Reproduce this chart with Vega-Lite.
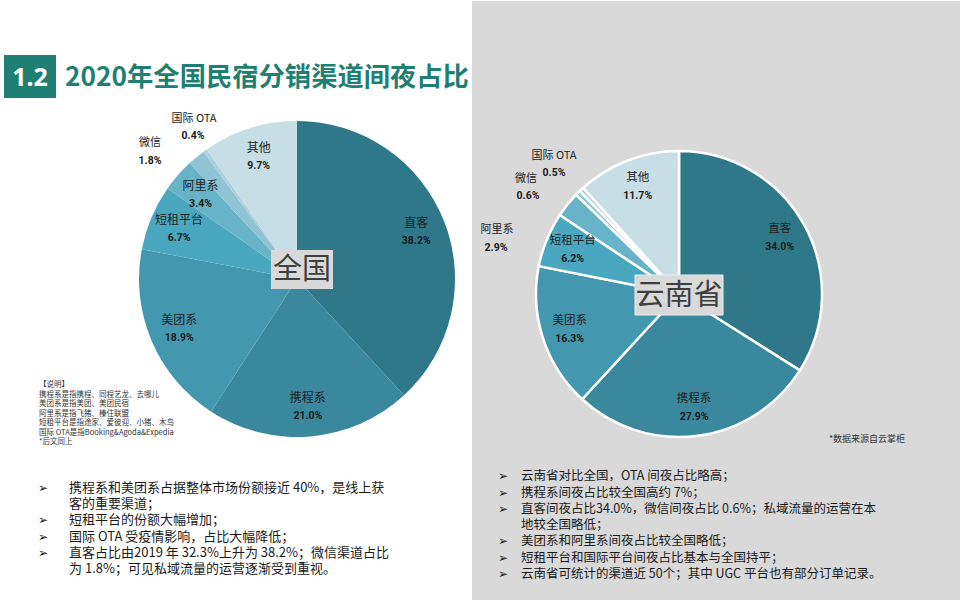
{
  "$schema": "https://vega.github.io/schema/vega-lite/v6.json",
  "width": 960,
  "height": 600,
  "autosize": {"type": "fit", "contains": "padding"},
  "padding": 0,
  "background": "white",
  "config": {"view": {"stroke": null}, "font": "Noto Sans CJK SC", "text": {"font": "Noto Sans CJK SC"}},
  "datasets": {
    "national": [
      {"ch": "直客", "v": 38.2, "idx": 1},
      {"ch": "携程系", "v": 21.0, "idx": 2},
      {"ch": "美团系", "v": 18.9, "idx": 3},
      {"ch": "短租平台", "v": 6.7, "idx": 4},
      {"ch": "阿里系", "v": 3.4, "idx": 5},
      {"ch": "微信", "v": 1.8, "idx": 6},
      {"ch": "国际 OTA", "v": 0.4, "idx": 7},
      {"ch": "其他", "v": 9.7, "idx": 8}
    ],
    "yunnan": [
      {"ch": "直客", "v": 34.0, "idx": 1},
      {"ch": "携程系", "v": 27.9, "idx": 2},
      {"ch": "美团系", "v": 16.3, "idx": 3},
      {"ch": "短租平台", "v": 6.2, "idx": 4},
      {"ch": "阿里系", "v": 2.9, "idx": 5},
      {"ch": "微信", "v": 0.6, "idx": 6},
      {"ch": "国际 OTA", "v": 0.5, "idx": 7},
      {"ch": "其他", "v": 11.7, "idx": 8}
    ]
  },
  "layer": [
    {"data": {"values": [{}]}, "mark": {"type": "rect", "x": 471, "x2": 960, "y": 0, "y2": 600, "fill": "#d9d9d9"}, "encoding": {}},
    {"data": {"values": [{}]}, "mark": {"type": "rect", "x": 3, "x2": 55, "y": 54, "y2": 97, "fill": "#1f7f72"}, "encoding": {}},
    {"data": {"values": [{}]}, "mark": {"type": "text", "x": 29, "y": 77, "text": "1.2", "fontSize": 25, "fontWeight": "bold", "fill": "white", "align": "center", "baseline": "middle", "font": "Noto Sans"}, "encoding": {}},
    {"data": {"values": [{}]}, "mark": {"type": "text", "x": 64, "y": 77, "text": "2020年全国民宿分销渠道间夜占比", "fontSize": 26.3, "fontWeight": "bold", "fill": "#1f7f72", "align": "left", "baseline": "middle"}, "encoding": {}},

    {"data": {"name": "national"},
     "mark": {"type": "arc", "x": 296, "y": 278, "outerRadius": 158},
     "encoding": {
       "theta": {"field": "v", "type": "quantitative", "stack": true},
       "order": {"field": "idx", "type": "quantitative"},
       "color": {"field": "ch", "type": "nominal", "legend": null,
         "scale": {"domain": ["直客", "携程系", "美团系", "短租平台", "阿里系", "微信", "国际 OTA", "其他"],
                   "range": ["#2e788a", "#3a889d", "#4398af", "#4aa7c0", "#67b4c9", "#90c4d4", "#abd1dd", "#c7dee7"]}}
     }},
    {"data": {"name": "national"},
     "mark": {"type": "text", "x": 296, "y": 278, "radius": 128, "dy": -9, "fontSize": 12, "fill": "#222222", "align": "center", "baseline": "middle"},
     "encoding": {
       "theta": {"field": "v", "type": "quantitative", "stack": true},
       "order": {"field": "idx", "type": "quantitative"},
       "text": {"condition": {"test": "datum.v < 3", "value": ""}, "field": "ch"}
     }},
    {"data": {"name": "national"},
     "transform": [{"calculate": "format(datum.v, '.1f') + '%'", "as": "pct"}],
     "mark": {"type": "text", "x": 296, "y": 278, "radius": 128, "dy": 9, "fontSize": 10.5, "fontWeight": "bold", "fill": "#1a1a1a", "align": "center", "baseline": "middle", "font": "Roboto"},
     "encoding": {
       "theta": {"field": "v", "type": "quantitative", "stack": true},
       "order": {"field": "idx", "type": "quantitative"},
       "text": {"condition": {"test": "datum.v < 3", "value": ""}, "field": "pct"}
     }},
    {"data": {"values": [{}]}, "mark": {"type": "rule", "x": 200, "y": 133, "x2": 206, "y2": 150, "stroke": "#9a9a9a", "strokeWidth": 1}, "encoding": {}},
    {"data": {"values": [{}]}, "mark": {"type": "rule", "x": 163, "y": 145, "x2": 198, "y2": 155, "stroke": "#9a9a9a", "strokeWidth": 1}, "encoding": {}},
    {"data": {"name": "national"}, "transform": [{"filter": "datum.ch == '国际 OTA'"}],
     "mark": {"type": "text", "x": 193, "y": 118, "fontSize": 11, "fill": "#222222", "align": "center", "baseline": "middle"},
     "encoding": {"text": {"field": "ch"}}},
    {"data": {"name": "national"}, "transform": [{"filter": "datum.ch == '国际 OTA'"}, {"calculate": "format(datum.v, '.1f') + '%'", "as": "pct"}],
     "mark": {"type": "text", "x": 192, "y": 135, "fontSize": 10.5, "fontWeight": "bold", "fill": "#1a1a1a", "align": "center", "baseline": "middle", "font": "Roboto"},
     "encoding": {"text": {"field": "pct"}}},
    {"data": {"name": "national"}, "transform": [{"filter": "datum.ch == '微信'"}],
     "mark": {"type": "text", "x": 149, "y": 142, "fontSize": 11, "fill": "#222222", "align": "center", "baseline": "middle"},
     "encoding": {"text": {"field": "ch"}}},
    {"data": {"name": "national"}, "transform": [{"filter": "datum.ch == '微信'"}, {"calculate": "format(datum.v, '.1f') + '%'", "as": "pct"}],
     "mark": {"type": "text", "x": 149, "y": 160, "fontSize": 10.5, "fontWeight": "bold", "fill": "#1a1a1a", "align": "center", "baseline": "middle", "font": "Roboto"},
     "encoding": {"text": {"field": "pct"}}},
    {"data": {"values": [{}]}, "mark": {"type": "rect", "x": 270, "x2": 332, "y": 249, "y2": 288, "fill": "#d9d9d9"}, "encoding": {}},
    {"data": {"values": [{}]}, "mark": {"type": "text", "x": 301, "y": 269, "text": "全国", "fontSize": 29, "fill": "#3f3f3f", "align": "center", "baseline": "middle"}, "encoding": {}},

    {"data": {"name": "yunnan"},
     "mark": {"type": "arc", "x": 678, "y": 293, "outerRadius": 143, "stroke": "white", "strokeWidth": 2.5},
     "encoding": {
       "theta": {"field": "v", "type": "quantitative", "stack": true},
       "order": {"field": "idx", "type": "quantitative"},
       "color": {"field": "ch", "type": "nominal", "legend": null}
     }},
    {"data": {"name": "yunnan"},
     "mark": {"type": "text", "x": 678, "y": 293, "radius": 115, "dy": -9, "fontSize": 11.5, "fill": "#222222", "align": "center", "baseline": "middle"},
     "encoding": {
       "theta": {"field": "v", "type": "quantitative", "stack": true},
       "order": {"field": "idx", "type": "quantitative"},
       "text": {"condition": {"test": "datum.v < 3", "value": ""}, "field": "ch"}
     }},
    {"data": {"name": "yunnan"},
     "transform": [{"calculate": "format(datum.v, '.1f') + '%'", "as": "pct"}],
     "mark": {"type": "text", "x": 678, "y": 293, "radius": 115, "dy": 9, "fontSize": 10.5, "fontWeight": "bold", "fill": "#1a1a1a", "align": "center", "baseline": "middle", "font": "Roboto"},
     "encoding": {
       "theta": {"field": "v", "type": "quantitative", "stack": true},
       "order": {"field": "idx", "type": "quantitative"},
       "text": {"condition": {"test": "datum.v < 3", "value": ""}, "field": "pct"}
     }},
    {"data": {"values": [{}]}, "mark": {"type": "rule", "x": 567, "y": 173, "x2": 580, "y2": 192, "stroke": "#9a9a9a", "strokeWidth": 1}, "encoding": {}},
    {"data": {"values": [{}]}, "mark": {"type": "rule", "x": 542, "y": 181, "x2": 578, "y2": 193, "stroke": "#9a9a9a", "strokeWidth": 1}, "encoding": {}},
    {"data": {"values": [{}]}, "mark": {"type": "rule", "x": 517, "y": 232, "x2": 567, "y2": 203, "stroke": "#9a9a9a", "strokeWidth": 1}, "encoding": {}},
    {"data": {"name": "yunnan"}, "transform": [{"filter": "datum.ch == '国际 OTA'"}],
     "mark": {"type": "text", "x": 553, "y": 155, "fontSize": 11, "fill": "#222222", "align": "center", "baseline": "middle"},
     "encoding": {"text": {"field": "ch"}}},
    {"data": {"name": "yunnan"}, "transform": [{"filter": "datum.ch == '国际 OTA'"}, {"calculate": "format(datum.v, '.1f') + '%'", "as": "pct"}],
     "mark": {"type": "text", "x": 553, "y": 172, "fontSize": 10.5, "fontWeight": "bold", "fill": "#1a1a1a", "align": "center", "baseline": "middle", "font": "Roboto"},
     "encoding": {"text": {"field": "pct"}}},
    {"data": {"name": "yunnan"}, "transform": [{"filter": "datum.ch == '微信'"}],
     "mark": {"type": "text", "x": 525, "y": 178, "fontSize": 11, "fill": "#222222", "align": "center", "baseline": "middle"},
     "encoding": {"text": {"field": "ch"}}},
    {"data": {"name": "yunnan"}, "transform": [{"filter": "datum.ch == '微信'"}, {"calculate": "format(datum.v, '.1f') + '%'", "as": "pct"}],
     "mark": {"type": "text", "x": 527, "y": 195, "fontSize": 10.5, "fontWeight": "bold", "fill": "#1a1a1a", "align": "center", "baseline": "middle", "font": "Roboto"},
     "encoding": {"text": {"field": "pct"}}},
    {"data": {"name": "yunnan"}, "transform": [{"filter": "datum.ch == '阿里系'"}],
     "mark": {"type": "text", "x": 496, "y": 229, "fontSize": 11, "fill": "#222222", "align": "center", "baseline": "middle"},
     "encoding": {"text": {"field": "ch"}}},
    {"data": {"name": "yunnan"}, "transform": [{"filter": "datum.ch == '阿里系'"}, {"calculate": "format(datum.v, '.1f') + '%'", "as": "pct"}],
     "mark": {"type": "text", "x": 495, "y": 247, "fontSize": 10.5, "fontWeight": "bold", "fill": "#1a1a1a", "align": "center", "baseline": "middle", "font": "Roboto"},
     "encoding": {"text": {"field": "pct"}}},
    {"data": {"values": [{}]}, "mark": {"type": "rect", "x": 634, "x2": 722, "y": 274, "y2": 314, "fill": "#d9d9d9", "stroke": "#ececec", "strokeWidth": 1}, "encoding": {}},
    {"data": {"values": [{}]}, "mark": {"type": "text", "x": 678, "y": 295, "text": "云南省", "fontSize": 29, "fill": "#3f3f3f", "align": "center", "baseline": "middle"}, "encoding": {}},

    {"data": {"values": [{}]}, "mark": {"type": "text", "x": 38, "y": 384, "text": "【说明】", "fontSize": 7.5, "fill": "#333333", "align": "left", "baseline": "middle"}, "encoding": {}},
    {"data": {"values": [{}]}, "mark": {"type": "text", "x": 38, "y": 393.5, "text": "携程系是指携程、同程艺龙、去哪儿", "fontSize": 7.5, "fill": "#333333", "align": "left", "baseline": "middle"}, "encoding": {}},
    {"data": {"values": [{}]}, "mark": {"type": "text", "x": 38, "y": 403, "text": "美团系是指美团、美团民宿", "fontSize": 7.5, "fill": "#333333", "align": "left", "baseline": "middle"}, "encoding": {}},
    {"data": {"values": [{}]}, "mark": {"type": "text", "x": 38, "y": 412.5, "text": "阿里系是指飞猪、榛住联盟", "fontSize": 7.5, "fill": "#333333", "align": "left", "baseline": "middle"}, "encoding": {}},
    {"data": {"values": [{}]}, "mark": {"type": "text", "x": 38, "y": 422, "text": "短租平台是指途家、爱彼迎、小猪、木鸟", "fontSize": 7.5, "fill": "#333333", "align": "left", "baseline": "middle"}, "encoding": {}},
    {"data": {"values": [{}]}, "mark": {"type": "text", "x": 38, "y": 431.5, "text": "国际 OTA是指Booking&Agoda&Expedia", "fontSize": 7.5, "fill": "#333333", "align": "left", "baseline": "middle"}, "encoding": {}},
    {"data": {"values": [{}]}, "mark": {"type": "text", "x": 38, "y": 441, "text": "*后文同上", "fontSize": 7.5, "fill": "#333333", "align": "left", "baseline": "middle"}, "encoding": {}},
    {"data": {"values": [{}]}, "mark": {"type": "text", "x": 866, "y": 438, "text": "*数据来源自云掌柜", "fontSize": 9, "fill": "#333333", "align": "center", "baseline": "middle"}, "encoding": {}},

    {"data": {"values": [{}]}, "mark": {"type": "text", "x": 42, "y": 487, "text": "➢", "fontSize": 12, "fontWeight": "bold", "fill": "#222222", "align": "center", "baseline": "middle", "font": "DejaVu Sans"}, "encoding": {}},
    {"data": {"values": [{}]}, "mark": {"type": "text", "x": 42, "y": 519, "text": "➢", "fontSize": 12, "fontWeight": "bold", "fill": "#222222", "align": "center", "baseline": "middle", "font": "DejaVu Sans"}, "encoding": {}},
    {"data": {"values": [{}]}, "mark": {"type": "text", "x": 42, "y": 535.5, "text": "➢", "fontSize": 12, "fontWeight": "bold", "fill": "#222222", "align": "center", "baseline": "middle", "font": "DejaVu Sans"}, "encoding": {}},
    {"data": {"values": [{}]}, "mark": {"type": "text", "x": 42, "y": 551.5, "text": "➢", "fontSize": 12, "fontWeight": "bold", "fill": "#222222", "align": "center", "baseline": "middle", "font": "DejaVu Sans"}, "encoding": {}},
    {"data": {"values": [{}]}, "mark": {"type": "text", "x": 68, "y": 487, "text": "携程系和美团系占据整体市场份额接近 40%，是线上获", "fontSize": 13, "fill": "#1a1a1a", "align": "left", "baseline": "middle"}, "encoding": {}},
    {"data": {"values": [{}]}, "mark": {"type": "text", "x": 68, "y": 503, "text": "客的重要渠道；", "fontSize": 13, "fill": "#1a1a1a", "align": "left", "baseline": "middle"}, "encoding": {}},
    {"data": {"values": [{}]}, "mark": {"type": "text", "x": 68, "y": 519, "text": "短租平台的份额大幅增加；", "fontSize": 13, "fill": "#1a1a1a", "align": "left", "baseline": "middle"}, "encoding": {}},
    {"data": {"values": [{}]}, "mark": {"type": "text", "x": 68, "y": 535.5, "text": "国际 OTA 受疫情影响，占比大幅降低；", "fontSize": 13, "fill": "#1a1a1a", "align": "left", "baseline": "middle"}, "encoding": {}},
    {"data": {"values": [{}]}, "mark": {"type": "text", "x": 68, "y": 551.5, "text": "直客占比由2019 年 32.3%上升为 38.2%；微信渠道占比", "fontSize": 13, "fill": "#1a1a1a", "align": "left", "baseline": "middle"}, "encoding": {}},
    {"data": {"values": [{}]}, "mark": {"type": "text", "x": 68, "y": 567.5, "text": "为 1.8%；可见私域流量的运营逐渐受到重视。", "fontSize": 13, "fill": "#1a1a1a", "align": "left", "baseline": "middle"}, "encoding": {}},

    {"data": {"values": [{}]}, "mark": {"type": "text", "x": 502, "y": 475, "text": "➢", "fontSize": 12, "fontWeight": "bold", "fill": "#222222", "align": "center", "baseline": "middle", "font": "DejaVu Sans"}, "encoding": {}},
    {"data": {"values": [{}]}, "mark": {"type": "text", "x": 502, "y": 491.5, "text": "➢", "fontSize": 12, "fontWeight": "bold", "fill": "#222222", "align": "center", "baseline": "middle", "font": "DejaVu Sans"}, "encoding": {}},
    {"data": {"values": [{}]}, "mark": {"type": "text", "x": 502, "y": 508, "text": "➢", "fontSize": 12, "fontWeight": "bold", "fill": "#222222", "align": "center", "baseline": "middle", "font": "DejaVu Sans"}, "encoding": {}},
    {"data": {"values": [{}]}, "mark": {"type": "text", "x": 502, "y": 540, "text": "➢", "fontSize": 12, "fontWeight": "bold", "fill": "#222222", "align": "center", "baseline": "middle", "font": "DejaVu Sans"}, "encoding": {}},
    {"data": {"values": [{}]}, "mark": {"type": "text", "x": 502, "y": 556.5, "text": "➢", "fontSize": 12, "fontWeight": "bold", "fill": "#222222", "align": "center", "baseline": "middle", "font": "DejaVu Sans"}, "encoding": {}},
    {"data": {"values": [{}]}, "mark": {"type": "text", "x": 502, "y": 572.5, "text": "➢", "fontSize": 12, "fontWeight": "bold", "fill": "#222222", "align": "center", "baseline": "middle", "font": "DejaVu Sans"}, "encoding": {}},
    {"data": {"values": [{}]}, "mark": {"type": "text", "x": 520, "y": 475, "text": "云南省对比全国，OTA 间夜占比略高；", "fontSize": 12.5, "fill": "#1a1a1a", "align": "left", "baseline": "middle"}, "encoding": {}},
    {"data": {"values": [{}]}, "mark": {"type": "text", "x": 520, "y": 491.5, "text": "携程系间夜占比较全国高约 7%；", "fontSize": 12.5, "fill": "#1a1a1a", "align": "left", "baseline": "middle"}, "encoding": {}},
    {"data": {"values": [{}]}, "mark": {"type": "text", "x": 520, "y": 508, "text": "直客间夜占比34.0%，微信间夜占比 0.6%；私域流量的运营在本", "fontSize": 12.5, "fill": "#1a1a1a", "align": "left", "baseline": "middle"}, "encoding": {}},
    {"data": {"values": [{}]}, "mark": {"type": "text", "x": 520, "y": 523.5, "text": "地较全国略低；", "fontSize": 12.5, "fill": "#1a1a1a", "align": "left", "baseline": "middle"}, "encoding": {}},
    {"data": {"values": [{}]}, "mark": {"type": "text", "x": 520, "y": 540, "text": "美团系和阿里系间夜占比较全国略低；", "fontSize": 12.5, "fill": "#1a1a1a", "align": "left", "baseline": "middle"}, "encoding": {}},
    {"data": {"values": [{}]}, "mark": {"type": "text", "x": 520, "y": 556.5, "text": "短租平台和国际平台间夜占比基本与全国持平；", "fontSize": 12.5, "fill": "#1a1a1a", "align": "left", "baseline": "middle"}, "encoding": {}},
    {"data": {"values": [{}]}, "mark": {"type": "text", "x": 520, "y": 572.5, "text": "云南省可统计的渠道近 50个；其中 UGC 平台也有部分订单记录。", "fontSize": 12.5, "fill": "#1a1a1a", "align": "left", "baseline": "middle"}, "encoding": {}}
  ]
}
